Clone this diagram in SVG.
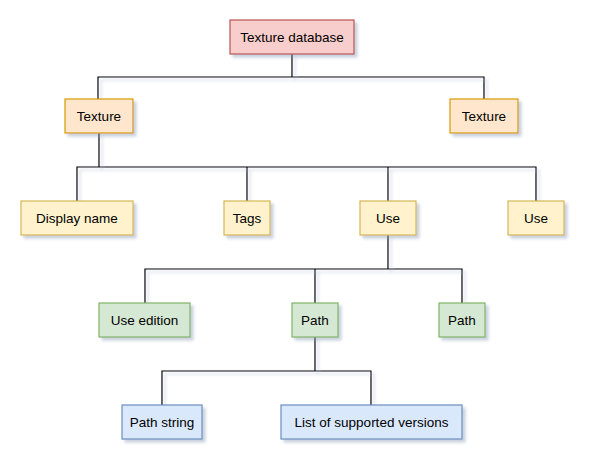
<svg xmlns="http://www.w3.org/2000/svg" width="597" height="472" viewBox="0 0 597 472">
<defs>
<filter id="sh" x="-20%" y="-20%" width="150%" height="160%">
<feDropShadow dx="3" dy="3" stdDeviation="1.6" flood-color="#8a9ab8" flood-opacity="0.45"/>
</filter>
</defs>
<style>
.box{stroke-width:1.2;filter:url(#sh)}
.red{fill:#f8cecc;stroke:#b85450}
.org{fill:#ffe6cc;stroke:#d79b00}
.yel{fill:#fff2cc;stroke:#d6b656}
.grn{fill:#d5e8d4;stroke:#82b366}
.blu{fill:#dae8fc;stroke:#6c8ebf}
text{font-family:"Liberation Sans",Arial,Helvetica,sans-serif;font-size:13.5px;fill:#000;text-anchor:middle}
.con{fill:none;stroke:#000;stroke-width:1.2;filter:url(#sh)}
</style>
<rect width="597" height="472" fill="#fff"/>
<g id="connectors">
<path class="con" d="M292 54V77M98 99V77H484V99"/>
<path class="con" d="M99 133V167M77 201V167H536V201M247 167V201M388 167V201"/>
<path class="con" d="M388 235V269M145 303V269H462V303M315 269V303"/>
<path class="con" d="M315 337V371M162 405V371H371V405"/>
</g>
<g id="texture-database"><rect class="box red" x="230" y="20" width="124" height="34"/><text x="292" y="41.7">Texture database</text></g>
<g id="texture-1"><rect class="box org" x="65" y="99" width="68" height="34"/><text x="99" y="120.7">Texture</text></g>
<g id="texture-2"><rect class="box org" x="450" y="99" width="68" height="34"/><text x="484" y="120.7">Texture</text></g>
<g id="display-name"><rect class="box yel" x="21" y="201" width="112" height="34"/><text x="77" y="222.7">Display name</text></g>
<g id="tags"><rect class="box yel" x="224" y="201" width="46" height="34"/><text x="247" y="222.7">Tags</text></g>
<g id="use-1"><rect class="box yel" x="360" y="201" width="56" height="34"/><text x="388" y="222.7">Use</text></g>
<g id="use-2"><rect class="box yel" x="508" y="201" width="56" height="34"/><text x="536" y="222.7">Use</text></g>
<g id="use-edition"><rect class="box grn" x="99" y="303" width="91" height="34"/><text x="144.5" y="324.7">Use edition</text></g>
<g id="path-1"><rect class="box grn" x="292" y="303" width="46" height="34"/><text x="315" y="324.7">Path</text></g>
<g id="path-2"><rect class="box grn" x="439" y="303" width="46" height="34"/><text x="462" y="324.7">Path</text></g>
<g id="path-string"><rect class="box blu" x="122" y="405" width="80" height="34"/><text x="162" y="426.7">Path string</text></g>
<g id="supported-versions"><rect class="box blu" x="281" y="405" width="181" height="34"/><text x="371.5" y="426.7">List of supported versions</text></g>
</svg>
